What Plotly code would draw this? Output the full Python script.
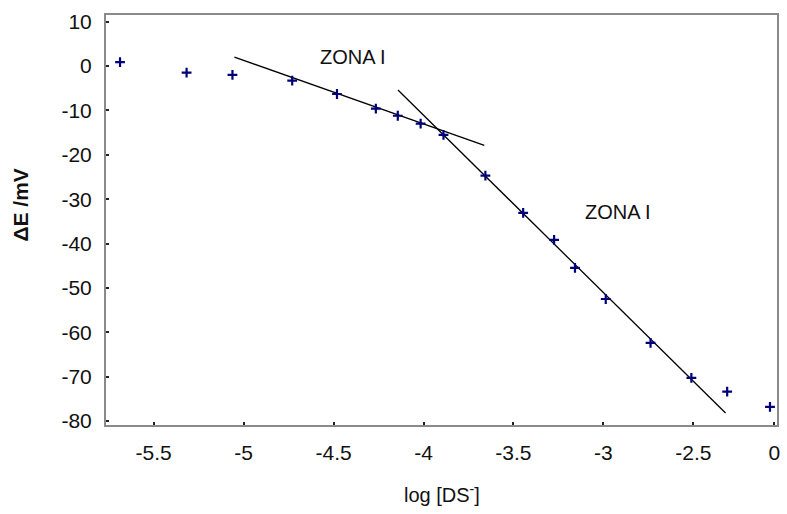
import plotly.graph_objects as go

# Measured points: log [DS-] vs Delta E (mV)
log_ds = [-5.687, -5.317, -5.062, -4.730, -4.481, -4.265, -4.143, -4.016, -3.889,
          -3.656, -3.446, -3.274, -3.158, -2.987, -2.738, -2.511, -2.312, -2.074]
delta_e = [0.9, -1.5, -2.0, -3.3, -6.3, -9.6, -11.2, -13.0, -15.5,
           -24.7, -33.1, -39.2, -45.5, -52.5, -62.4, -70.3, -73.4, -76.8]

# Fitted straight lines (end points) for the two zones
fit1_x = [-5.051, -3.662]
fit1_y = [2.0, -17.9]
fit2_x = [-4.142, -2.321]
fit2_y = [-5.4, -78.2]

# Axis ticks (the original chart labels its last tick "0")
x_tickvals = [-5.5, -5.0, -4.5, -4.0, -3.5, -3.0, -2.5, -2.05]
x_ticktext = ["-5.5", "-5", "-4.5", "-4", "-3.5", "-3", "-2.5", "0"]
y_tickvals = [10, 0, -10, -20, -30, -40, -50, -60, -70, -80]
y_ticktext = ["10", "0", "-10", "-20", "-30", "-40", "-50", "-60", "-70", "-80"]

zone_labels = ["ZONA I", "ZONA I"]
zone_x = [-4.392, -2.920]
zone_y = [2.1, -32.9]

font = "Liberation Sans, Arial, sans-serif"

fig = go.Figure()
fig.add_trace(go.Scatter(x=fit1_x, y=fit1_y, mode="lines",
                         line=dict(color="black", width=1.3), showlegend=False))
fig.add_trace(go.Scatter(x=fit2_x, y=fit2_y, mode="lines",
                         line=dict(color="black", width=1.3), showlegend=False))
fig.add_trace(go.Scatter(x=log_ds, y=delta_e, mode="markers",
                         marker=dict(symbol="cross-thin", size=7,
                                     line=dict(color="#00007a", width=2.2)),
                         showlegend=False))

for t, xx, yy in zip(zone_labels, zone_x, zone_y):
    fig.add_annotation(x=xx, y=yy, text=t, showarrow=False, xanchor="center",
                       yanchor="middle",
                       font=dict(family=font, size=20, color="#111"))

fig.add_annotation(x=-0.127, y=0.537, xref="paper", yref="paper", text="<b>ΔE /mV</b>",
                   textangle=-90, showarrow=False, xanchor="center", yanchor="middle",
                   font=dict(family=font, size=21, color="#111"))
fig.add_annotation(x=0.50, y=-0.168, xref="paper", yref="paper",
                   text="log [DS<sup>-</sup>]", showarrow=False, xanchor="center",
                   yanchor="middle",
                   font=dict(family=font, size=20, color="#111"))

axis_common = dict(showgrid=False, zeroline=False, showline=True, mirror=True,
                   linecolor="#8a8a8a", linewidth=2, ticks="inside", ticklen=3,
                   tickwidth=2, tickcolor="#222",
                   tickfont=dict(family=font, size=21, color="#111"))

fig.update_xaxes(range=[-5.765, -2.035], tickvals=x_tickvals, ticktext=x_ticktext,
                 ticklabelstandoff=8, **axis_common)
fig.update_yaxes(range=[-80.9, 11.5], tickvals=y_tickvals, ticktext=y_ticktext,
                 ticklabelstandoff=8, **axis_common)

fig.update_layout(width=787, height=514, margin=dict(l=106, r=7, t=15, b=89),
                  plot_bgcolor="white", paper_bgcolor="white")

fig.write_html("out.html")
